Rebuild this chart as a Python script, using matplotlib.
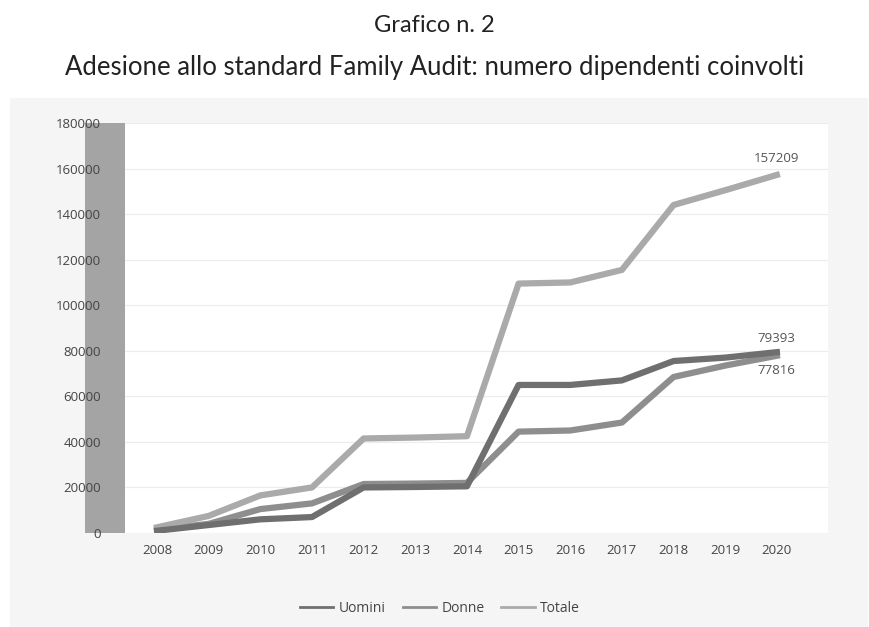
"""
Grafico n. 2 - Adesione allo standard Family Audit
"""

import matplotlib
matplotlib.use("Agg")
import matplotlib.pyplot as plt
from matplotlib.patches import Rectangle

# data
years = [2008, 2009, 2010, 2011, 2012, 2013, 2014, 2015, 2016, 2017, 2018, 2019, 2020]
uomini = [1000, 3500, 6000, 7000, 20000, 20200, 20500, 65000, 65000, 67000, 75500, 77000, 79393]
donne = [1500, 4000, 10500, 13000, 21500, 21700, 22000, 44500, 45000, 48500, 68500, 73500, 77816]
totale = [2500, 7500, 16500, 20000, 41500, 41900, 42500, 109500, 110000, 115500, 144000, 150500, 157209]
y_ticks = list(range(0, 180001, 20000))

# colors
colors = {"Uomini": "#6f6f6f", "Donne": "#8e8e8e", "Totale": "#aaaaaa"}

fig = plt.figure(figsize=(8.69, 6.27), dpi=100)
fig.patch.set_facecolor("white")

# light gray panel behind the chart
fig.patches.append(
    Rectangle((10 / 869, 0), 858 / 869, 1 - 98 / 627, transform=fig.transFigure,
              facecolor="#f5f5f5", edgecolor="none", zorder=0)
)
# dark band left of the plot area
fig.patches.append(
    Rectangle((85 / 869, 1 - 533 / 627), 40 / 869, 410 / 627, transform=fig.transFigure,
              facecolor="#a4a4a4", edgecolor="none", zorder=1)
)

ax = fig.add_axes([125 / 869, 1 - 533 / 627, 703 / 869, 410 / 627])
ax.set_zorder(2)
ax.set_facecolor("white")

ax.plot(years, uomini, color=colors["Uomini"], lw=4.5, label="Uomini", zorder=3)
ax.plot(years, donne, color=colors["Donne"], lw=4.5, label="Donne", zorder=2)
ax.plot(years, totale, color=colors["Totale"], lw=4.5, label="Totale", zorder=2)

ax.set_xlim(2007.38, 2020.99)
ax.set_ylim(0, 180000)
ax.set_xticks(years)
ax.set_yticks(y_ticks)
ax.tick_params(length=0, labelsize=9.5, labelcolor="#444444")
ax.tick_params(axis="y", pad=17.5)
ax.tick_params(axis="x", pad=8)
for lab in ax.get_xticklabels() + ax.get_yticklabels():
    lab.set_family("Open Sans")
ax.grid(axis="y", color="#ececec", lw=0.8)
ax.set_axisbelow(True)
for s in ax.spines.values():
    s.set_visible(False)

# end labels
lab_kw = dict(ha="center", fontsize=9.5, color="#555555", family="Open Sans")
ax.annotate(str(totale[-1]), (years[-1], totale[-1]), xytext=(0, 7),
            textcoords="offset points", va="bottom", **lab_kw)
ax.annotate(str(uomini[-1]), (years[-1], uomini[-1]), xytext=(0, 5),
            textcoords="offset points", va="bottom", **lab_kw)
ax.annotate(str(donne[-1]), (years[-1], donne[-1]), xytext=(0, -6),
            textcoords="offset points", va="top", **lab_kw)

# legend
fig.legend(loc="center", bbox_to_anchor=(440 / 869, 1 - 608 / 627), ncol=3,
           frameon=False, handlelength=2.4, handletextpad=0.4, columnspacing=1.2,
           prop={"family": "Open Sans", "size": 10}, labelcolor="#444444")
for line in fig.legends[0].get_lines():
    line.set_linewidth(2)

# titles
fig.text(0.5, 1 - 25 / 627, "Grafico n. 2", ha="center", va="center",
         fontsize=17, family="Lato", color="#222222")
fig.text(0.5, 1 - 67 / 627, "Adesione allo standard Family Audit: numero dipendenti coinvolti",
         ha="center", va="center", fontsize=18.5, family="Lato", color="#222222")

fig.savefig("out.png", dpi=100)
